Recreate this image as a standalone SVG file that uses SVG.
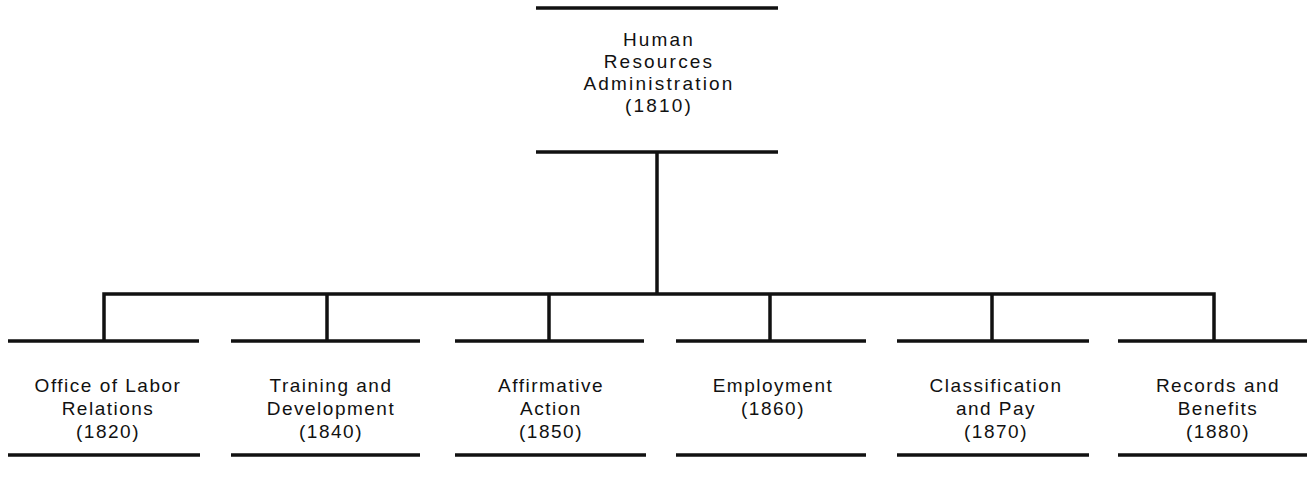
<svg xmlns="http://www.w3.org/2000/svg" width="1312" height="486" viewBox="0 0 1312 486">
<style>
.bar{stroke:#111;stroke-width:3.5;stroke-linecap:butt;fill:none}
.conn{stroke:#111;stroke-width:3.5;fill:none}
text{font-family:"Liberation Sans",Arial,sans-serif;font-size:19px;letter-spacing:1.5px;fill:#111;text-anchor:middle}
.top{letter-spacing:2.2px}
</style>
<rect width="1312" height="486" fill="#fff"/>
<g id="connectors">
<line class="conn" x1="657" y1="152" x2="657" y2="294"/>
<polyline class="conn" points="104,341 104,294 1214,294 1214,341"/>
<line class="conn" x1="327" y1="294" x2="327" y2="341"/>
<line class="conn" x1="549" y1="294" x2="549" y2="341"/>
<line class="conn" x1="770" y1="294" x2="770" y2="341"/>
<line class="conn" x1="992" y1="294" x2="992" y2="341"/>
</g>
<g id="n1810">
<line class="bar" x1="536" y1="8" x2="778" y2="8"/>
<line class="bar" x1="536" y1="152" x2="778" y2="152"/>
<text class="top" x="659" y="46">Human</text>
<text class="top" x="659" y="68">Resources</text>
<text class="top" x="659" y="90">Administration</text>
<text class="top" x="659" y="112">(1810)</text>
</g>
<g id="n1820">
<line class="bar" x1="8" y1="341" x2="199" y2="341"/>
<line class="bar" x1="8" y1="455" x2="200" y2="455"/>
<text x="108" y="392">Office of Labor</text>
<text x="108" y="415">Relations</text>
<text x="108" y="438">(1820)</text>
</g>
<g id="n1840">
<line class="bar" x1="231" y1="341" x2="420" y2="341"/>
<line class="bar" x1="231" y1="455" x2="420" y2="455"/>
<text x="331" y="392">Training and</text>
<text x="331" y="415">Development</text>
<text x="331" y="438">(1840)</text>
</g>
<g id="n1850">
<line class="bar" x1="455" y1="341" x2="644" y2="341"/>
<line class="bar" x1="455" y1="455" x2="646" y2="455"/>
<text x="551" y="392">Affirmative</text>
<text x="551" y="415">Action</text>
<text x="551" y="438">(1850)</text>
</g>
<g id="n1860">
<line class="bar" x1="676" y1="341" x2="866" y2="341"/>
<line class="bar" x1="676" y1="455" x2="866" y2="455"/>
<text x="773" y="392">Employment</text>
<text x="773" y="415">(1860)</text>
</g>
<g id="n1870">
<line class="bar" x1="897" y1="341" x2="1089" y2="341"/>
<line class="bar" x1="897" y1="455" x2="1089" y2="455"/>
<text x="996" y="392">Classification</text>
<text x="996" y="415">and Pay</text>
<text x="996" y="438">(1870)</text>
</g>
<g id="n1880">
<line class="bar" x1="1118" y1="341" x2="1307" y2="341"/>
<line class="bar" x1="1118" y1="455" x2="1307" y2="455"/>
<text x="1218" y="392">Records and</text>
<text x="1218" y="415">Benefits</text>
<text x="1218" y="438">(1880)</text>
</g>
</svg>
